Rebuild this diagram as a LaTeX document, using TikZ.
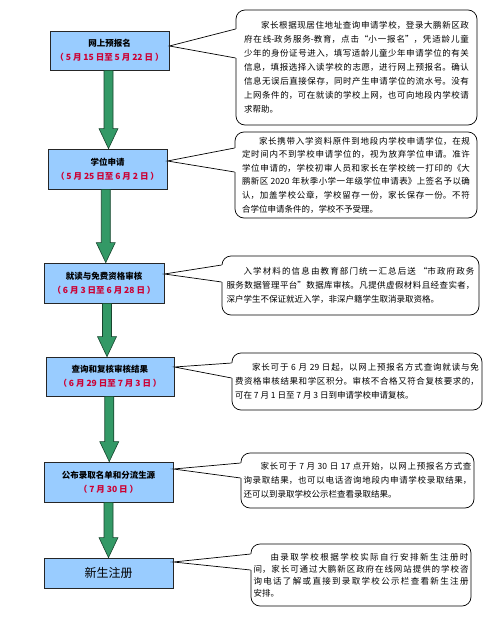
\documentclass[tikz,border=0pt]{standalone}
\usepackage{fontspec}
\newfontfamily\cjk{Noto Sans CJK SC}
\usetikzlibrary{calc}
\XeTeXlinebreaklocale "zh"
\XeTeXlinebreakskip=0pt plus 1pt
\definecolor{boxblue}{HTML}{99CCFF}
\definecolor{arrowgreen}{HTML}{339966}
\definecolor{datered}{HTML}{CC0033}
\newcommand\period[1]{\textcolor{datered}{#1}}
% box, tip shift, callout, top y, bottom y
\newcommand\pointer[5]{%
  \coordinate (#1tip) at ([yshift=#2pt]#1.east);
  \fill[white] ($(#3.west |- 0,#4)+(1.2pt,0)$) -- (#1tip) -- ($(#3.west |- 0,#5)+(1.2pt,0)$) -- cycle;
  \draw[line width=0.7pt] (#3.west |- 0,#4) -- (#1tip) -- (#3.west |- 0,#5);}

\begin{document}
\begin{tikzpicture}[
  x=1pt, y=-1pt,
  box/.style={draw=black!85, fill=boxblue, line width=0.8pt, minimum height=40pt,
    align=center, font=\cjk\bfseries\fontsize{8.5}{14}\selectfont},
  note/.style={draw, line width=0.7pt, rounded corners=9pt, fill=white, inner ysep=2pt,
    align=justify, font=\cjk\fontsize{8.5}{14}\selectfont},
  flowarrow/.style={draw=arrowgreen!45!black, fill=arrowgreen, line width=0.6pt,
    to path={let \p1=(\tikztostart), \p2=(\tikztotarget), \n1={(\x1+\x2)/2} in
      (\n1-4.5pt,\y1) -- (\n1-4.5pt,\y2+20pt) -- (\n1-9.5pt,\y2+20pt) -- (\n1,\y2)
      -- (\n1+9.5pt,\y2+20pt) -- (\n1+4.5pt,\y2+20pt) -- (\n1+4.5pt,\y1) -- cycle}}
]
\useasboundingbox (0,0) rectangle (500,624);

% Steps
\node[box, minimum width=119pt, minimum height=39pt] (b1) at (109.5,50.5)
  {网上预报名\\\period{（ 5 月 15 日至 5 月 22 日 ）}};
\node[box, minimum width=119pt] (b2) at (107.5,169)
  {学位申请\\\period{（ 5 月 25 日至 6 月 2 日 ）}};
\node[box, minimum width=120pt] (b3) at (104,283)
  {就读与免费资格审核\\\period{（ 6 月 3 日至 6 月 28 日 ）}};
\node[box, minimum width=128pt, minimum height=39pt] (b4) at (110,376.5)
  {查询和复核审核结果\\\period{（ 6 月 29 日至 7 月 3 日 ）}};
\node[box, minimum width=129pt] (b5) at (108.5,482)
  {公布录取名单和分流生源\\\period{（ 7 月 30 日 ）}};
\node[box, minimum width=129pt, minimum height=30pt,
  font=\cjk\fontsize{12}{14}\selectfont] (b6) at (108.5,573) {新生注册};

% Arrows
\path[flowarrow] (b1.south) to (b2.north);
\path[flowarrow] (b2.south) to (b3.north);
\path[flowarrow] (b3.south) to (b4.north);
\path[flowarrow] (b4.south) to (b5.north);
\path[flowarrow] (b5.south) to (b6.north);

% Notes
\node[note, text width=225pt, inner xsep=8pt, minimum height=115pt] (c1) at (356.5,67.5)
  {\hspace*{2em}家长根据现居住地址查询申请学校，登录大鹏新区政\linebreak
   府在线-政务服务-教育，点击“小一报名”，凭适龄儿童\linebreak
   少年的身份证号进入，填写适龄儿童少年申请学位的有关\linebreak
   信息，填报选择入读学校的志愿，进行网上预报名。确认\linebreak
   信息无误后直接保存，同时产生申请学位的流水号。没有\linebreak
   上网条件的，可在就读的学校上网，也可向地段内学校请\linebreak
   求帮助。};
\node[note, text width=228pt, inner xsep=7pt, minimum height=86pt,
  font=\cjk\fontsize{8.5}{13.6}\selectfont] (c2) at (356,175)
  {\hspace*{2em}家长携带入学资料原件到地段内学校申请学位，在规\linebreak
   定时间内不到学校申请学位的，视为放弃学位申请。准许\linebreak
   学位申请的，学校初审人员和家长在学校统一打印的《大\linebreak
   鹏新区 2020 年秋季小学一年级学位申请表》上签名予以确\linebreak
   认，加盖学校公章，学校留存一份，家长保存一份。不符\linebreak
   合学位申请条件的，学校不予受理。};
\node[note, text width=248pt, inner xsep=4.5pt, minimum height=59pt] (c3) at (350.5,285.5)
  {\hspace*{2em}入学材料的信息由教育部门统一汇总后送 “市政府政务\linebreak
   服务数据管理平台”数据库审核。凡提供虚假材料且经查实者，\linebreak
   深户学生不保证就近入学，非深户籍学生取消录取资格。};
\node[note, text width=244pt, inner xsep=3pt, minimum height=57pt] (c4) at (357,381.5)
  {\hspace*{2em}家长可于 6 月 29 日起，以网上预报名方式查询就读与免\linebreak
   费资格审核结果和学区积分。审核不合格又符合复核要求的，\linebreak
   可在 7 月 1 日至 7 月 3 日到申请学校申请复核。};
\node[note, text width=228pt, inner xsep=2.5pt, minimum height=55pt] (c5) at (357.5,480.5)
  {\hspace*{2em}家长可于 7 月 30 日 17 点开始，以网上预报名方式查\linebreak
   询录取结果，也可以电话咨询地段内申请学校录取结果，\linebreak
   还可以到录取学校公示栏查看录取结果。};
\node[note, text width=215pt, inner xsep=2.5pt, minimum height=62pt,
  font=\cjk\fontsize{8.5}{12}\selectfont] (c6) at (361,575)
  {\hspace*{2em}由录取学校根据学校实际自行安排新生注册时\linebreak
   间，家长可通过大鹏新区政府在线网站提供的学校咨\linebreak
   询电话了解或直接到录取学校公示栏查看新生注册\linebreak
   安排。};

% Pointers
\pointer{b1}{4.5}{c1}{29}{58}
\pointer{b2}{8}{c2}{148}{172}
\pointer{b3}{9}{c3}{265}{282}
\pointer{b4}{9.5}{c4}{363}{378}
\pointer{b5}{13}{c5}{463}{478}
\pointer{b6}{11}{c6}{554}{570}
\end{tikzpicture}
\end{document}
